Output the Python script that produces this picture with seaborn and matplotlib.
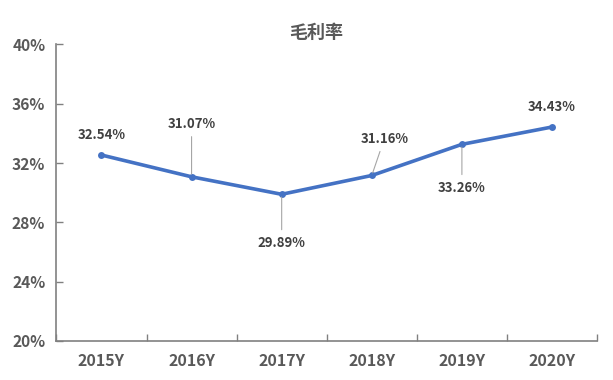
import matplotlib
matplotlib.use("Agg")
import matplotlib.pyplot as plt
import numpy as np
import pandas as pd
import seaborn as sns
from matplotlib.ticker import FixedLocator, FuncFormatter

years = ["2015Y", "2016Y", "2017Y", "2018Y", "2019Y", "2020Y"]
margin = [32.54, 31.07, 29.89, 31.16, 33.26, 34.43]
labels = ["32.54%", "31.07%", "29.89%", "31.16%", "33.26%", "34.43%"]
y_ticks = [20, 24, 28, 32, 36, 40]

sns.set_theme(style="white")
plt.rcParams["font.family"] = ["Noto Sans CJK SC", "DejaVu Sans"]

df = pd.DataFrame({"idx": np.arange(len(years)), "margin": margin})

fig = plt.figure(figsize=(6.13, 3.8), dpi=100)
ax = fig.add_axes([0.092, 0.103, 0.882, 0.78])

sns.lineplot(data=df, x="idx", y="margin", ax=ax, color="#4472C4",
             linewidth=2.6, marker="o", markersize=5, markeredgewidth=0)

ax.set_xlim(-0.5, len(years) - 0.5)
ax.set_ylim(20, 40)
ax.set_xlabel("")
ax.set_ylabel("")

ax.yaxis.set_major_locator(FixedLocator(y_ticks))
ax.yaxis.set_major_formatter(FuncFormatter(lambda v, p: f"{v:.0f}%"))
ax.set_xticks(range(len(years)))
ax.set_xticklabels(years)
ax.xaxis.set_minor_locator(FixedLocator(np.arange(-0.5, len(years), 1.0)))

txt = "#595959"
ax.tick_params(axis="x", which="major", length=0, pad=9, labelsize=11.5, labelcolor=txt)
ax.tick_params(axis="x", which="minor", length=5, width=1, direction="in", color="#808080", bottom=True)
ax.tick_params(axis="y", which="major", length=5, width=1, direction="in", color="#808080",
               left=True, pad=8, labelsize=11.2, labelcolor=txt)
for lab in ax.get_xticklabels() + ax.get_yticklabels():
    lab.set_fontweight("bold")

for s in ["top", "right"]:
    ax.spines[s].set_visible(False)
for s in ["left", "bottom"]:
    ax.spines[s].set_color("#808080")
    ax.spines[s].set_linewidth(1.2)

# label positions (index offset, value) and whether a leader line is drawn
label_pos = [(0.0, 33.92), (0.0, 34.66), (0.0, 26.62), (0.14, 33.65), (0.0, 30.34), (0.0, 35.81)]
leader = [False, True, True, True, True, False]
for i, (dx, ty) in enumerate(label_pos):
    props = dict(arrowstyle="-", color="#A6A6A6", lw=0.8, shrinkA=2, shrinkB=2) if leader[i] else None
    ax.annotate(labels[i], xy=(i, margin[i]), xytext=(i + dx, ty),
                ha="center", va="center", fontsize=9.5, fontweight="bold",
                color="#404040", arrowprops=props)

fig.text(0.515, 0.915, "毛利率", ha="center", va="center", fontsize=13,
         fontweight="bold", color=txt)

fig.savefig("out.png", dpi=100)
